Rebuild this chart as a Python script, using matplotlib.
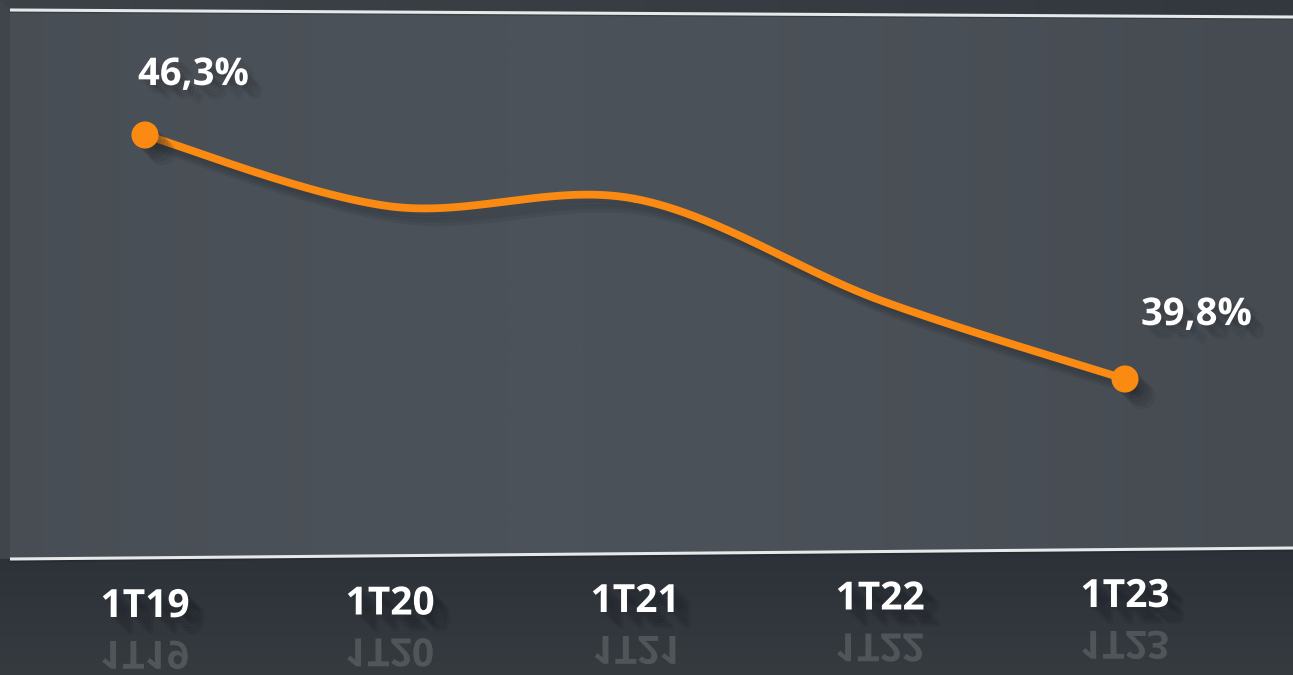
import numpy as np
import matplotlib
matplotlib.use("Agg")
import matplotlib.pyplot as plt
from matplotlib.patches import Polygon, PathPatch
from matplotlib.textpath import TextPath
from matplotlib.font_manager import FontProperties
from matplotlib import patheffects as pe
from matplotlib.transforms import Affine2D, blended_transform_factory

# ---- data ----
categories = ["1T19", "1T20", "1T21", "1T22", "1T23"]
values = [46.3, 44.4, 44.6, 41.9, 39.8]
value_labels = {0: "46,3%", 4: "39,8%"}

ORANGE = "#fb8a12"
W, H = 1293, 675
fig = plt.figure(figsize=(W / 100, H / 100), dpi=100)
fig.patch.set_facecolor("#383d43")

# background (pixel coordinates, y down)
bg = fig.add_axes([0, 0, 1, 1])
bg.set_xlim(0, W)
bg.set_ylim(H, 0)
bg.axis("off")

grad_top = np.linspace(0, 1, 256)[None, :]
bg.imshow(grad_top, extent=[0, W, 20, 0], cmap=matplotlib.colors.LinearSegmentedColormap.from_list(
    "t", ["#3d4248", "#33383e"]), aspect="auto", zorder=0)
bg.add_patch(Polygon([[0, 0], [10, 10], [10, 560], [0, 560]], closed=True,
                     facecolor="#3f454a", edgecolor="none", zorder=1))
panel = Polygon([[10, 10], [W, 17], [W, 548], [10, 559]], closed=True,
                facecolor="#4a4f56", edgecolor="none", zorder=1)
bg.add_patch(panel)
gx = np.linspace(0, 1, 512)
grad = (0.5 + 0.5 * np.sin(gx * np.pi * 1.2))[None, :]
im = bg.imshow(grad, extent=[10, W, 560, 10], aspect="auto", zorder=2,
               cmap=matplotlib.colors.LinearSegmentedColormap.from_list(
                   "p", ["#464b52", "#4c5259"]))
im.set_clip_path(panel)
floor = Polygon([[0, 559], [W, 548], [W, H], [0, H]], closed=True,
                facecolor="#30353c", edgecolor="none", zorder=1)
bg.add_patch(floor)
fy = np.linspace(0, 1, 256)[:, None]
im2 = bg.imshow(fy, extent=[0, W, H, 545], aspect="auto", zorder=2,
                cmap=matplotlib.colors.LinearSegmentedColormap.from_list(
                    "f", ["#2c3139", "#363b40"]))
im2.set_clip_path(floor)
bg.plot([10, W], [10, 17], color="#e6e8ea", lw=2.2, zorder=5, solid_capstyle="butt")
bg.plot([10, W], [12, 19], color="#2a2e33", lw=1.2, alpha=0.5, zorder=4)
bg.plot([10, W], [559, 548], color="#e6e8ea", lw=2.2, zorder=5, solid_capstyle="butt")
bg.plot([10, W], [561, 550], color="#23272c", lw=2.0, alpha=0.6, zorder=4)

# ---- data axes ----
ax = fig.add_axes([0, 0, 1, 1])
ax.patch.set_alpha(0)
ax.axis("off")
ax.set_xlim(-145 / 245, (W - 145) / 245)
ax.set_ylim(values[0] - 540 / 37.54, values[0] + 135 / 37.54)

# Catmull-Rom spline through points
x = np.arange(len(values), dtype=float)
y = np.array(values, dtype=float)
px = np.concatenate([[x[0]], x, [x[-1]]])
py = np.concatenate([[y[0]], y, [y[-1]]])
xs, ys = [], []
t = np.linspace(0, 1, 60)
def cr(a0, a1, a2, a3):
    return 0.5 * ((2 * a1) + (-a0 + a2) * t + (2 * a0 - 5 * a1 + 4 * a2 - a3) * t ** 2
                  + (-a0 + 3 * a1 - 3 * a2 + a3) * t ** 3)
for i in range(1, len(px) - 2):
    xs.append(cr(px[i - 1], px[i], px[i + 1], px[i + 2]))
    ys.append(cr(py[i - 1], py[i], py[i + 1], py[i + 2]))
xs = np.concatenate(xs)
ys = np.concatenate(ys)

def soft_line_shadow(n=4, step=2.5, a=0.16):
    return [pe.SimpleLineShadow(offset=(step * k, -step * k), shadow_color="#2a2e34", alpha=a)
            for k in range(1, n + 1)] + [pe.Normal()]

def soft_patch_shadow(n=5, step=2.0, a=0.09, color="#1f2328"):
    return [pe.SimplePatchShadow(offset=(step * k, -step * k), shadow_rgbFace=color, alpha=a)
            for k in range(1, n + 1)] + [pe.Normal()]

ax.plot(xs, ys, color=ORANGE, lw=5.6, solid_capstyle="round", zorder=6,
        path_effects=soft_line_shadow())
for i in value_labels:
    ax.plot(x[i], y[i], "o", color=ORANGE, ms=18.5, mec=ORANGE, zorder=7,
            path_effects=soft_patch_shadow(n=5, step=2.5, a=0.12))

offsets = {0: (-7, 50), 4: (16, 54)}
for i, s in value_labels.items():
    ax.annotate(s, (x[i], y[i]), xytext=offsets[i], textcoords="offset pixels",
                ha="left", va="baseline", color="white", fontsize=27.5, fontweight="bold",
                family="Open Sans", zorder=8, path_effects=soft_patch_shadow())

# category labels + reflections
tr = blended_transform_factory(ax.transData, bg.transData)
fp = FontProperties(family="Open Sans", weight="bold")
for i, c in enumerate(categories):
    base = 617 - 2.5 * i
    ax.text(i, base, c, transform=tr, ha="center", va="baseline", color="white",
            fontsize=28, fontweight="bold", family="Open Sans", zorder=8,
            path_effects=soft_patch_shadow(n=6, step=2.0, a=0.12, color="#15181c"))
    tp = TextPath((0, 0), c, size=28 * 100 / 72, prop=fp)
    bb = tp.get_extents()
    cx_disp, _ = ax.transData.transform((i, 0))
    mirror = base + 24
    trans = Affine2D().translate(-(bb.x0 + bb.x1) / 2, 0).scale(1, -1).translate(cx_disp, H - mirror)
    patch = PathPatch(trans.transform_path(tp), facecolor="#c8cacc", edgecolor="none",
                      alpha=0.2, transform=None, zorder=3)
    fig.add_artist(patch)

fig.savefig("out.png", dpi=100, facecolor=fig.get_facecolor())
